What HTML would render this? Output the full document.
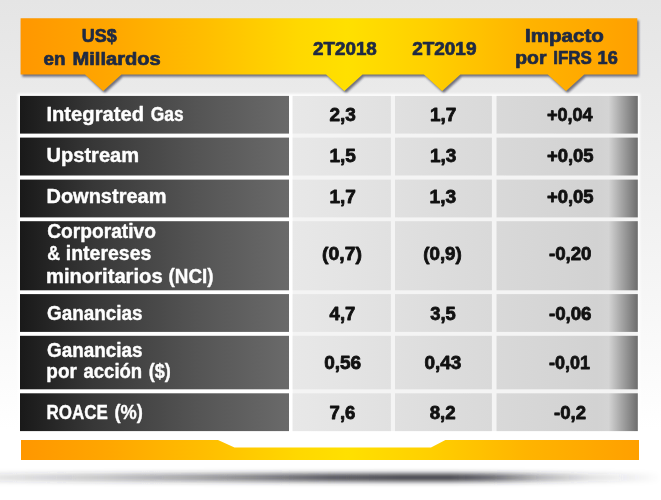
<!DOCTYPE html>
<html><head><meta charset="utf-8">
<style>
html,body{margin:0;padding:0;}
body{width:661px;height:500px;overflow:hidden;background:#fff;}
svg{display:block;position:absolute;left:0;top:0;}
text{font-family:"Liberation Sans",sans-serif;font-weight:bold;}
</style></head><body>
<svg width="661" height="500" viewBox="0 0 661 500">
<defs>
<linearGradient id="bgg" x1="0" y1="0" x2="0" y2="1"><stop offset="0" stop-color="#e5e5e5"/><stop offset="0.4" stop-color="#f0f0f0"/><stop offset="0.86" stop-color="#ffffff"/><stop offset="1" stop-color="#ffffff"/></linearGradient>
<linearGradient id="hg" gradientUnits="userSpaceOnUse" x1="20.6" y1="0" x2="637.3" y2="0"><stop offset="0" stop-color="#ff9700"/><stop offset="0.14" stop-color="#ffa600"/><stop offset="0.30" stop-color="#ffbe00"/><stop offset="0.45" stop-color="#ffd800"/><stop offset="0.53" stop-color="#ffe000"/><stop offset="0.66" stop-color="#ffd000"/><stop offset="0.82" stop-color="#ffb400"/><stop offset="1" stop-color="#ffa000"/></linearGradient>
<linearGradient id="dg" gradientUnits="userSpaceOnUse" x1="20" y1="0" x2="289" y2="0"><stop offset="0" stop-color="#191919"/><stop offset="0.27" stop-color="#373737"/><stop offset="0.65" stop-color="#545454"/><stop offset="1" stop-color="#6a6a6a"/></linearGradient>
<linearGradient id="lg" gradientUnits="userSpaceOnUse" x1="292" y1="0" x2="638" y2="0"><stop offset="0" stop-color="#e8e8e8"/><stop offset="0.45" stop-color="#dcdcdc"/><stop offset="0.88" stop-color="#d2d2d2"/><stop offset="0.915" stop-color="#d4d4d4"/><stop offset="0.95" stop-color="#a8a8a8"/><stop offset="1" stop-color="#6c6c6c"/></linearGradient>
<filter id="sh" x="-10%" y="-30%" width="120%" height="180%"><feGaussianBlur stdDeviation="1.3"/></filter>
<filter id="gs" x="-10%" y="-100%" width="120%" height="300%"><feGaussianBlur stdDeviation="12 2.2"/></filter>
<filter id="soft" x="-2%" y="-2%" width="104%" height="104%"><feGaussianBlur stdDeviation="0.55"/></filter>
<filter id="soft2" x="-2%" y="-2%" width="104%" height="104%"><feGaussianBlur stdDeviation="0.8"/></filter>
</defs>
<rect x="0" y="0" width="661" height="500" fill="url(#bgg)"/>
<path d="M20.6,18.2 H637.3 V74.5 H584.2 L566.0,91.0 L547.8,74.5 H460.3 L442.1,91.0 L423.90000000000003,74.5 H362.5 L344.3,91.0 L326.1,74.5 H121.4 L103.2,91.0 L85.0,74.5 H20.6 Z" fill="#26283c" opacity="0.62" filter="url(#sh)" transform="translate(1.6,2.3)"/>
<path d="M20.6,18.2 H637.3 V74.5 H584.2 L566.0,91.0 L547.8,74.5 H460.3 L442.1,91.0 L423.90000000000003,74.5 H362.5 L344.3,91.0 L326.1,74.5 H121.4 L103.2,91.0 L85.0,74.5 H20.6 Z" fill="url(#hg)"/>
<rect x="17.8" y="93.8" width="622.2" height="339.2" fill="#ffffff" filter="url(#soft2)"/>
<rect x="292.6" y="95.9" width="345.2" height="335.2" fill="#f4f4f4"/>
<rect x="20" y="95.9" width="269" height="37.7" fill="url(#dg)"/>
<rect x="20" y="137.6" width="269" height="37.9" fill="url(#dg)"/>
<rect x="20" y="179.6" width="269" height="37.8" fill="url(#dg)"/>
<rect x="20" y="221.2" width="269" height="69.1" fill="url(#dg)"/>
<rect x="20" y="294.1" width="269" height="37.8" fill="url(#dg)"/>
<rect x="20" y="335.8" width="269" height="53.5" fill="url(#dg)"/>
<rect x="20" y="393.3" width="269" height="37.8" fill="url(#dg)"/>
<g filter="url(#soft)">
<rect x="292.6" y="95.9" width="98.3" height="37.7" fill="url(#lg)"/>
<rect x="395.0" y="95.9" width="96.9" height="37.7" fill="url(#lg)"/>
<rect x="496.5" y="95.9" width="141.3" height="37.7" fill="url(#lg)"/>
<rect x="292.6" y="137.6" width="98.3" height="37.9" fill="url(#lg)"/>
<rect x="395.0" y="137.6" width="96.9" height="37.9" fill="url(#lg)"/>
<rect x="496.5" y="137.6" width="141.3" height="37.9" fill="url(#lg)"/>
<rect x="292.6" y="179.6" width="98.3" height="37.8" fill="url(#lg)"/>
<rect x="395.0" y="179.6" width="96.9" height="37.8" fill="url(#lg)"/>
<rect x="496.5" y="179.6" width="141.3" height="37.8" fill="url(#lg)"/>
<rect x="292.6" y="221.2" width="98.3" height="69.1" fill="url(#lg)"/>
<rect x="395.0" y="221.2" width="96.9" height="69.1" fill="url(#lg)"/>
<rect x="496.5" y="221.2" width="141.3" height="69.1" fill="url(#lg)"/>
<rect x="292.6" y="294.1" width="98.3" height="37.8" fill="url(#lg)"/>
<rect x="395.0" y="294.1" width="96.9" height="37.8" fill="url(#lg)"/>
<rect x="496.5" y="294.1" width="141.3" height="37.8" fill="url(#lg)"/>
<rect x="292.6" y="335.8" width="98.3" height="53.5" fill="url(#lg)"/>
<rect x="395.0" y="335.8" width="96.9" height="53.5" fill="url(#lg)"/>
<rect x="496.5" y="335.8" width="141.3" height="53.5" fill="url(#lg)"/>
<rect x="292.6" y="393.3" width="98.3" height="37.8" fill="url(#lg)"/>
<rect x="395.0" y="393.3" width="96.9" height="37.8" fill="url(#lg)"/>
<rect x="496.5" y="393.3" width="141.3" height="37.8" fill="url(#lg)"/>
</g>
<polygon points="21,440 218,440 234.5,447.6 431,447.6 445.4,440 639,440 639,460 21,460" fill="url(#hg)"/>
<defs><linearGradient id="sg" gradientUnits="userSpaceOnUse" x1="0" y1="0" x2="661" y2="0"><stop offset="0.0000" stop-color="#2c2c34" stop-opacity="0.137"/><stop offset="0.1513" stop-color="#2c2c34" stop-opacity="0.285"/><stop offset="0.3026" stop-color="#2c2c34" stop-opacity="0.479"/><stop offset="0.3933" stop-color="#2c2c34" stop-opacity="0.628"/><stop offset="0.4992" stop-color="#2c2c34" stop-opacity="0.822"/><stop offset="0.6051" stop-color="#2c2c34" stop-opacity="0.913"/><stop offset="0.6808" stop-color="#2c2c34" stop-opacity="0.913"/><stop offset="0.7413" stop-color="#2c2c34" stop-opacity="0.742"/><stop offset="0.8169" stop-color="#2c2c34" stop-opacity="0.377"/><stop offset="0.8926" stop-color="#2c2c34" stop-opacity="0.148"/><stop offset="0.9682" stop-color="#2c2c34" stop-opacity="0.046"/><stop offset="1.0000" stop-color="#2c2c34" stop-opacity="0.000"/></linearGradient><filter id="gs2" x="-5%" y="-300%" width="110%" height="700%"><feGaussianBlur stdDeviation="0 2.6"/></filter></defs>
<rect x="-10" y="473.5" width="681" height="8" fill="url(#sg)" filter="url(#gs2)"/>
<g opacity="0.999">
<text transform="translate(81.83,42.00) scale(1.0237,1)" font-size="17.5" fill="#1f2a44" stroke="#1f2a44" stroke-width="0.7" stroke-linejoin="round">US$</text>
<text transform="translate(43.55,64.50) scale(1.0759,1)" font-size="17.5" fill="#1f2a44" stroke="#1f2a44" stroke-width="0.7" stroke-linejoin="round">en</text>
<text transform="translate(72.52,64.50) scale(1.1471,1)" font-size="17.5" fill="#1f2a44" stroke="#1f2a44" stroke-width="0.7" stroke-linejoin="round">Millardos</text>
<text transform="translate(313.05,54.80) scale(1.0751,1)" font-size="17.5" fill="#1f2a44" stroke="#1f2a44" stroke-width="0.7" stroke-linejoin="round">2T2018</text>
<text transform="translate(412.15,54.80) scale(1.0835,1)" font-size="17.5" fill="#1f2a44" stroke="#1f2a44" stroke-width="0.7" stroke-linejoin="round">2T2019</text>
<text transform="translate(524.97,41.90) scale(1.1758,1)" font-size="17.5" fill="#1f2a44" stroke="#1f2a44" stroke-width="0.7" stroke-linejoin="round">Impacto</text>
<text transform="translate(515.24,64.30) scale(1.1070,1)" font-size="17.5" fill="#1f2a44" stroke="#1f2a44" stroke-width="0.7" stroke-linejoin="round">por</text>
<text transform="translate(553.27,64.30) scale(0.9681,1)" font-size="17.5" fill="#1f2a44" stroke="#1f2a44" stroke-width="0.7" stroke-linejoin="round">IFRS</text>
<text transform="translate(597.62,64.30) scale(1.0351,1)" font-size="17.5" fill="#1f2a44" stroke="#1f2a44" stroke-width="0.7" stroke-linejoin="round">16</text>
<text transform="translate(46.45,121.20) scale(1.0457,1)" font-size="19.3" fill="#ffffff" stroke="#ffffff" stroke-width="0.4" stroke-linejoin="round">Integrated</text>
<text transform="translate(150.76,121.20) scale(0.8998,1)" font-size="19.3" fill="#ffffff" stroke="#ffffff" stroke-width="0.4" stroke-linejoin="round">Gas</text>
<text transform="translate(46.46,162.00) scale(1.0404,1)" font-size="19.3" fill="#ffffff" stroke="#ffffff" stroke-width="0.4" stroke-linejoin="round">Upstream</text>
<text transform="translate(46.46,203.30) scale(1.0364,1)" font-size="19.3" fill="#ffffff" stroke="#ffffff" stroke-width="0.4" stroke-linejoin="round">Downstream</text>
<text transform="translate(47.20,238.00) scale(0.9946,1)" font-size="19.3" fill="#ffffff" stroke="#ffffff" stroke-width="0.4" stroke-linejoin="round">Corporativo</text>
<text transform="translate(47.20,260.00) scale(0.9157,1)" font-size="19.3" fill="#ffffff" stroke="#ffffff" stroke-width="0.4" stroke-linejoin="round">&amp;</text>
<text transform="translate(65.74,260.00) scale(1.0108,1)" font-size="19.3" fill="#ffffff" stroke="#ffffff" stroke-width="0.4" stroke-linejoin="round">intereses</text>
<text transform="translate(45.95,282.60) scale(1.0466,1)" font-size="19.3" fill="#ffffff" stroke="#ffffff" stroke-width="0.4" stroke-linejoin="round">minoritarios</text>
<text transform="translate(168.58,282.60) scale(0.9758,1)" font-size="19.3" fill="#ffffff" stroke="#ffffff" stroke-width="0.4" stroke-linejoin="round">(NCI)</text>
<text transform="translate(47.00,319.60) scale(0.9793,1)" font-size="19.3" fill="#ffffff" stroke="#ffffff" stroke-width="0.4" stroke-linejoin="round">Ganancias</text>
<text transform="translate(47.00,356.50) scale(0.9793,1)" font-size="19.3" fill="#ffffff" stroke="#ffffff" stroke-width="0.4" stroke-linejoin="round">Ganancias</text>
<text transform="translate(46.32,378.30) scale(0.9825,1)" font-size="19.3" fill="#ffffff" stroke="#ffffff" stroke-width="0.4" stroke-linejoin="round">por</text>
<text transform="translate(83.43,378.30) scale(0.9616,1)" font-size="19.3" fill="#ffffff" stroke="#ffffff" stroke-width="0.4" stroke-linejoin="round">acción</text>
<text transform="translate(148.81,378.30) scale(0.9329,1)" font-size="19.3" fill="#ffffff" stroke="#ffffff" stroke-width="0.4" stroke-linejoin="round">($)</text>
<text transform="translate(46.52,419.40) scale(0.8793,1)" font-size="19.3" fill="#ffffff" stroke="#ffffff" stroke-width="0.4" stroke-linejoin="round">ROACE</text>
<text transform="translate(114.47,419.40) scale(0.9447,1)" font-size="19.3" fill="#ffffff" stroke="#ffffff" stroke-width="0.4" stroke-linejoin="round">(%)</text>
<text transform="translate(329.50,121.30) scale(1.0056,1)" font-size="18.9" fill="#111111" stroke="#111111" stroke-width="0.8" stroke-linejoin="round">2,3</text>
<text transform="translate(429.89,121.30) scale(1.0059,1)" font-size="18.9" fill="#111111" stroke="#111111" stroke-width="0.8" stroke-linejoin="round">1,7</text>
<text transform="translate(546.90,121.30) scale(0.9567,1)" font-size="18.9" fill="#111111" stroke="#111111" stroke-width="0.8" stroke-linejoin="round">+0,04</text>
<text transform="translate(329.49,161.70) scale(1.0059,1)" font-size="18.9" fill="#111111" stroke="#111111" stroke-width="0.8" stroke-linejoin="round">1,5</text>
<text transform="translate(429.89,161.70) scale(1.0059,1)" font-size="18.9" fill="#111111" stroke="#111111" stroke-width="0.8" stroke-linejoin="round">1,3</text>
<text transform="translate(546.90,161.70) scale(0.9769,1)" font-size="18.9" fill="#111111" stroke="#111111" stroke-width="0.8" stroke-linejoin="round">+0,05</text>
<text transform="translate(329.49,202.80) scale(1.0059,1)" font-size="18.9" fill="#111111" stroke="#111111" stroke-width="0.8" stroke-linejoin="round">1,7</text>
<text transform="translate(429.59,202.80) scale(1.0140,1)" font-size="18.9" fill="#111111" stroke="#111111" stroke-width="0.8" stroke-linejoin="round">1,3</text>
<text transform="translate(546.90,202.80) scale(0.9769,1)" font-size="18.9" fill="#111111" stroke="#111111" stroke-width="0.8" stroke-linejoin="round">+0,05</text>
<text transform="translate(322.00,260.40) scale(1.0272,1)" font-size="18.9" fill="#111111" stroke="#111111" stroke-width="0.8" stroke-linejoin="round">(0,7)</text>
<text transform="translate(423.20,260.40) scale(0.9935,1)" font-size="18.9" fill="#111111" stroke="#111111" stroke-width="0.8" stroke-linejoin="round">(0,9)</text>
<text transform="translate(548.90,260.40) scale(0.9894,1)" font-size="18.9" fill="#111111" stroke="#111111" stroke-width="0.8" stroke-linejoin="round">-0,20</text>
<text transform="translate(329.60,319.50) scale(0.9785,1)" font-size="18.9" fill="#111111" stroke="#111111" stroke-width="0.8" stroke-linejoin="round">4,7</text>
<text transform="translate(430.20,319.50) scale(0.9707,1)" font-size="18.9" fill="#111111" stroke="#111111" stroke-width="0.8" stroke-linejoin="round">3,5</text>
<text transform="translate(548.90,319.50) scale(0.9894,1)" font-size="18.9" fill="#111111" stroke="#111111" stroke-width="0.8" stroke-linejoin="round">-0,06</text>
<text transform="translate(324.20,368.60) scale(1.0066,1)" font-size="18.9" fill="#111111" stroke="#111111" stroke-width="0.8" stroke-linejoin="round">0,56</text>
<text transform="translate(424.50,368.60) scale(1.0038,1)" font-size="18.9" fill="#111111" stroke="#111111" stroke-width="0.8" stroke-linejoin="round">0,43</text>
<text transform="translate(548.90,368.60) scale(0.9518,1)" font-size="18.9" fill="#111111" stroke="#111111" stroke-width="0.8" stroke-linejoin="round">-0,01</text>
<text transform="translate(329.60,418.80) scale(0.9824,1)" font-size="18.9" fill="#111111" stroke="#111111" stroke-width="0.8" stroke-linejoin="round">7,6</text>
<text transform="translate(429.70,418.80) scale(0.9901,1)" font-size="18.9" fill="#111111" stroke="#111111" stroke-width="0.8" stroke-linejoin="round">8,2</text>
<text transform="translate(554.00,418.80) scale(0.9830,1)" font-size="18.9" fill="#111111" stroke="#111111" stroke-width="0.8" stroke-linejoin="round">-0,2</text>
</g>
</svg>
</body></html>
